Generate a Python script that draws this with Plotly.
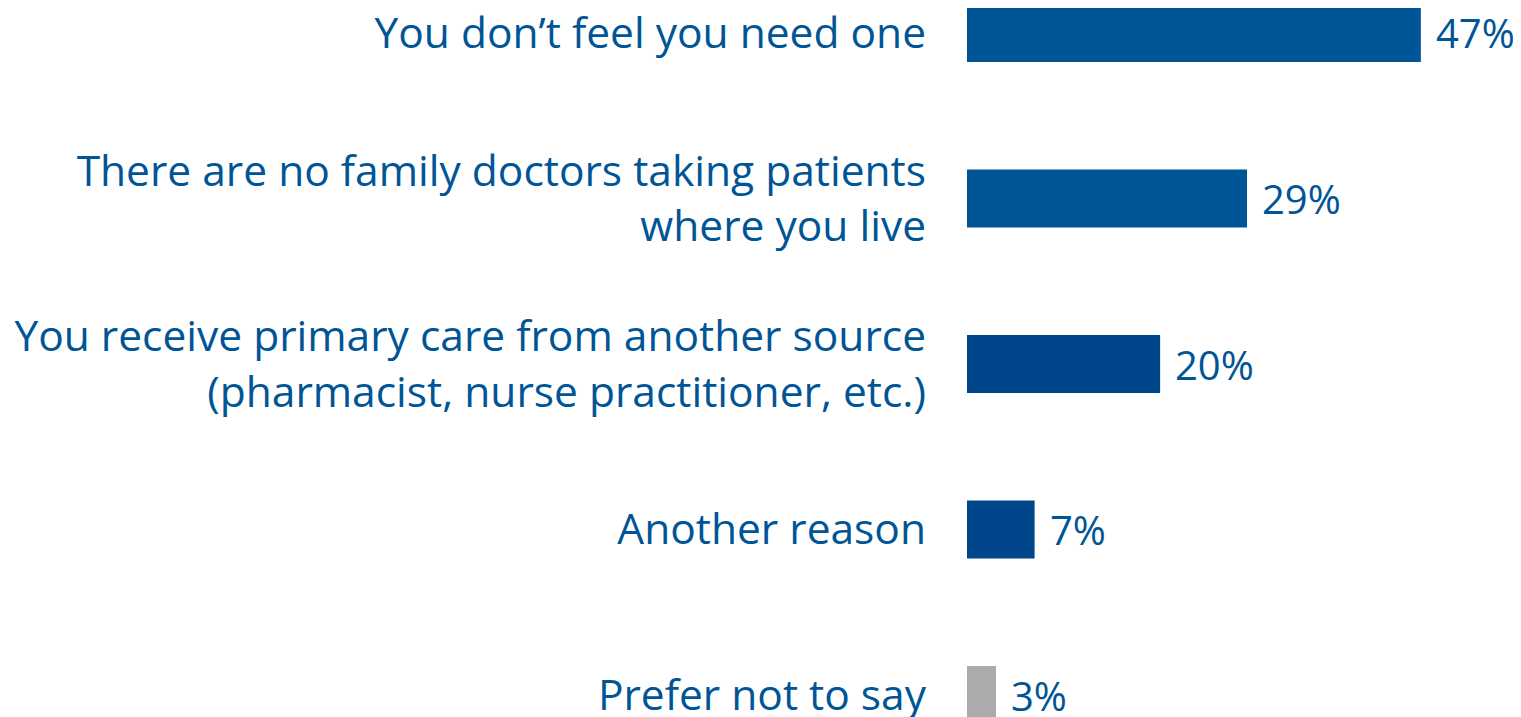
import plotly.graph_objects as go

categories = [
    "You don\u2019t feel you need one",
    "There are no family doctors taking patients<br>where you live",
    "You receive primary care from another source<br>(pharmacist, nurse practitioner, etc.)",
    "Another reason",
    "Prefer not to say",
]
values = [47, 29, 20, 7, 3]
labels = ["47%", "29%", "20%", "7%", "3%"]
colors = ["#005596", "#005596", "#00468B", "#00468B", "#ABABAB"]

TEXT = "#005596"
FONT = "Open Sans"
FS = 42.5

pos = list(range(len(categories)))

fig = go.Figure()
fig.add_trace(go.Bar(
    x=values, y=pos, orientation="h",
    marker=dict(color=colors, line=dict(width=0)),
    width=0.35, hoverinfo="skip",
))
for p, v, t in zip(pos, values, labels):
    fig.add_annotation(x=v, y=p, text=t, showarrow=False, xanchor="left",
                       xshift=13, font=dict(family=FONT, size=40, color=TEXT))

fig.update_layout(
    width=1521, height=717,
    margin=dict(l=959, r=0, t=0, b=0),
    paper_bgcolor="white", plot_bgcolor="white",
    showlegend=False,
    font=dict(family=FONT, size=FS, color=TEXT),
)
fig.update_xaxes(range=[0, 58.2], visible=False, showgrid=False, zeroline=False,
                 automargin=False)
fig.update_yaxes(range=[4.181, -0.151], tickvals=pos, ticktext=categories,
                 showgrid=False, zeroline=False, showline=False, ticks="",
                 automargin=False,
                 ticklabelstandoff=40, ticklabeloverflow="allow",
                 tickfont=dict(family=FONT, size=FS, color=TEXT))
fig.write_html("out.html")
